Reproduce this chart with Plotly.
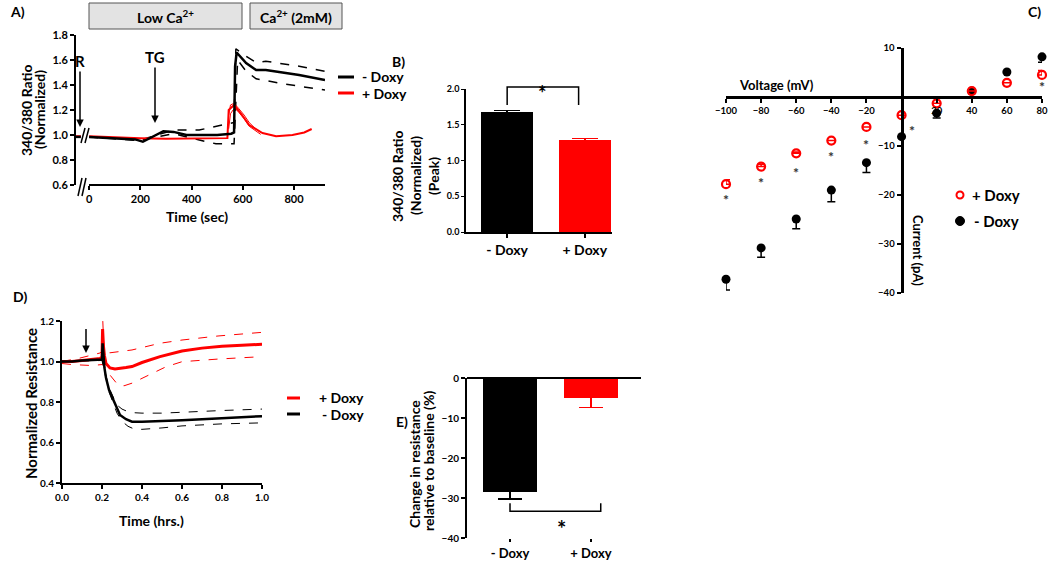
import plotly.graph_objects as go

W, H = 1050, 561
FONT = "Lato, 'Open Sans', Arial, sans-serif"
RED = "#ff0000"

# ---------------- Panel A data: 340/380 ratio vs time ----------------
a_black_t = [-55, -32, None, 0, 100, 180, 210, 250, 290, 330, 380, 430, 500, 555, 566, 570, 576, 613, 652, 690, 760, 820, 921]
a_black_y = [0.985, 0.985, None, 0.985, 0.975, 0.965, 0.946, 0.985, 1.03, 1.025, 1.0, 1.0, 1.0, 1.01, 1.02, 1.55, 1.66, 1.575, 1.52, 1.52, 1.50, 1.48, 1.44]
a_black_up_t = [0, 200, 250, 330, 430, 495, 560, 566, 573, 613, 652, 690, 820, 921]
a_black_up_y = [0.985, 0.96, 0.99, 1.04, 1.04, 1.067, 1.10, 1.10, 1.69, 1.63, 1.58, 1.59, 1.55, 1.51]
a_black_lo_t = [0, 200, 250, 330, 430, 495, 560, 566, 580, 613, 652, 755, 921]
a_black_lo_y = [0.985, 0.955, 0.98, 1.01, 0.96, 0.93, 0.93, 0.93, 1.60, 1.51, 1.45, 1.41, 1.36]
a_red_t = [-55, -32, None, 0, 100, 200, 300, 400, 500, 540, 545, 555, 566, 590, 625, 677, 730, 794, 840, 869]
a_red_y = [0.99, 0.99, None, 0.99, 0.98, 0.975, 0.97, 0.97, 0.97, 0.975, 1.20, 1.22, 1.24, 1.18, 1.08, 1.016, 0.99, 1.0, 1.02, 1.048]
a_red_hi_t = [545, 552, 562, 572, 585, 605, 625, 650, 670]
a_red_hi_y = [1.16, 1.24, 1.25, 1.24, 1.21, 1.16, 1.10, 1.05, 1.02]
a_red_lo_t = [545, 552, 562, 572, 585, 605, 625, 650, 670]
a_red_lo_y = [1.05, 1.17, 1.20, 1.21, 1.18, 1.13, 1.07, 1.03, 1.005]
a_xticks = [0, 200, 400, 600, 800]
a_yticks = [0.6, 0.8, 1.0, 1.2, 1.4, 1.6, 1.8]

# ---------------- Panel B data: peak ratio ----------------
b_cats = ["- Doxy", "+ Doxy"]
b_vals = [1.68, 1.29]
b_errs = [0.02, 0.02]
b_colors = ["black", RED]
b_yticks = [0.0, 0.5, 1.0, 1.5, 2.0]

# ---------------- Panel C data: I-V ----------------
c_volt = [-100, -80, -60, -40, -20, 0, 20, 40, 60, 80]
c_minus_i = [-37.2, -30.8, -24.9, -19.0, -13.4, -8.1, -3.3, 1.2, 5.1, 8.2]
c_minus_err = [2.2, 1.9, 2.0, 2.4, 2.0, 0.0, 1.0, 0.0, 0.0, 1.1]
c_plus_i = [-17.8, -14.2, -11.5, -8.9, -6.1, -3.7, -1.3, 1.2, 2.9, 4.5]
c_plus_err = [0.9, 0.5, 0.3, 0.0, 0.0, 0.0, 0.0, 0.0, 0.0, 0.9]
c_star_v = [-100, -80, -60, -40, -20, 6, 80]
c_star_i = [-20.0, -16.7, -14.5, -11.4, -8.8, -6.1, 2.9]
c_xticks = [-100, -80, -60, -40, -20, 20, 40, 60, 80]
c_yticks = [10, -10, -20, -30, -40]

# ---------------- Panel D data: normalized resistance ----------------
d_black_t = [0, 0.05, 0.1, 0.15, 0.19, 0.2, 0.203, 0.207, 0.212, 0.22, 0.235, 0.257, 0.275, 0.29, 0.32, 0.35, 0.4, 0.5, 0.6, 0.7, 0.8, 0.9, 1.0]
d_black_y = [1.0, 1.0, 1.005, 1.007, 1.008, 1.01, 1.09, 1.04, 0.97, 0.92, 0.86, 0.81, 0.765, 0.736, 0.715, 0.703, 0.702, 0.705, 0.71, 0.715, 0.72, 0.725, 0.73]
d_black_up_t = [0, 0.2, 0.235, 0.257, 0.275, 0.3, 0.33, 0.36, 0.4, 0.5, 0.6, 0.8, 1.0]
d_black_up_y = [1.0, 1.01, 0.87, 0.82, 0.785, 0.765, 0.752, 0.747, 0.745, 0.745, 0.75, 0.758, 0.765]
d_black_lo_t = [0, 0.2, 0.235, 0.257, 0.275, 0.3, 0.33, 0.36, 0.4, 0.5, 0.6, 0.8, 1.0]
d_black_lo_y = [1.0, 1.005, 0.85, 0.79, 0.745, 0.705, 0.68, 0.667, 0.665, 0.672, 0.682, 0.692, 0.697]
d_red_t = [0, 0.05, 0.1, 0.15, 0.19, 0.2, 0.203, 0.207, 0.212, 0.22, 0.24, 0.265, 0.29, 0.32, 0.35, 0.4, 0.49, 0.6, 0.7, 0.8, 0.9, 1.0]
d_red_y = [1.0, 1.0, 1.005, 1.01, 1.015, 1.02, 1.16, 1.08, 1.03, 0.99, 0.968, 0.963, 0.965, 0.97, 0.975, 0.995, 1.024, 1.052, 1.066, 1.075, 1.08, 1.085]
d_red_up_t = [0, 0.09, 0.19, 0.2, 0.204, 0.208, 0.215, 0.24, 0.35, 0.49, 0.6, 0.78, 1.0]
d_red_up_y = [1.0, 1.017, 1.042, 1.05, 1.2, 1.1, 1.045, 1.043, 1.057, 1.09, 1.106, 1.126, 1.144]
d_red_lo_t = [0, 0.05, 0.15, 0.2, 0.215, 0.24, 0.28, 0.31, 0.35, 0.43, 0.52, 0.6, 0.78, 1.0]
d_red_lo_y = [0.99, 0.985, 0.98, 0.985, 0.975, 0.933, 0.884, 0.88, 0.893, 0.933, 0.974, 0.999, 1.012, 1.024]
d_xticks = [0.0, 0.2, 0.4, 0.6, 0.8, 1.0]
d_yticks = [0.4, 0.6, 0.8, 1.0, 1.2]

# ---------------- Panel E data: change in resistance ----------------
e_cats = ["- Doxy", "+ Doxy"]
e_vals = [-28.4, -4.9]
e_errs = [1.9, 2.5]
e_colors = ["black", RED]
e_yticks = [0, -10, -20, -30, -40]


def px(x):
    return x / W


def py(y):
    return 1 - y / H


def F(size, color="black"):
    return dict(family=FONT, size=size, color=color, weight="bold")


fig = go.Figure()

# ---- Panel A traces
fig.add_trace(go.Scatter(x=a_black_up_t, y=a_black_up_y, mode="lines", line=dict(color="black", width=1.5, dash="dash"), xaxis="x", yaxis="y"))
fig.add_trace(go.Scatter(x=a_black_lo_t, y=a_black_lo_y, mode="lines", line=dict(color="black", width=1.5, dash="dash"), xaxis="x", yaxis="y"))
fig.add_trace(go.Scatter(x=a_red_hi_t, y=a_red_hi_y, mode="lines", line=dict(color=RED, width=1), xaxis="x", yaxis="y"))
fig.add_trace(go.Scatter(x=a_red_lo_t, y=a_red_lo_y, mode="lines", line=dict(color=RED, width=1), xaxis="x", yaxis="y"))
fig.add_trace(go.Scatter(x=a_red_t, y=a_red_y, mode="lines", line=dict(color=RED, width=2), xaxis="x", yaxis="y"))
fig.add_trace(go.Scatter(x=a_black_t, y=a_black_y, mode="lines", line=dict(color="black", width=2.5), xaxis="x", yaxis="y"))

# ---- Panel B bars
for i in range(2):
    fig.add_trace(go.Bar(x=[i], y=[b_vals[i]], width=0.67, marker=dict(color=b_colors[i], line=dict(width=0)),
                         error_y=dict(type="data", array=[b_errs[i]], color=b_colors[i], thickness=1.5, width=13),
                         xaxis="x2", yaxis="y2"))

# ---- Panel C scatter
fig.add_trace(go.Scatter(x=c_volt, y=c_minus_i, mode="markers", marker=dict(color="black", size=9, symbol="circle"),
                         error_y=dict(type="data", symmetric=False, array=[0] * len(c_volt), arrayminus=c_minus_err,
                                      color="black", thickness=1.5, width=4),
                         xaxis="x3", yaxis="y3", cliponaxis=False))
fig.add_trace(go.Scatter(x=c_volt, y=c_plus_i, mode="markers",
                         marker=dict(color=RED, size=8, symbol="circle-open", line=dict(color=RED, width=2.2)),
                         error_y=dict(type="data", symmetric=False, array=c_plus_err, arrayminus=[0] * len(c_volt),
                                      color=RED, thickness=1.5, width=4),
                         xaxis="x3", yaxis="y3", cliponaxis=False))

# ---- Panel D lines
fig.add_trace(go.Scatter(x=d_red_up_t, y=d_red_up_y, mode="lines", line=dict(color=RED, width=1, dash="dash"), xaxis="x4", yaxis="y4"))
fig.add_trace(go.Scatter(x=d_red_lo_t, y=d_red_lo_y, mode="lines", line=dict(color=RED, width=1, dash="dash"), xaxis="x4", yaxis="y4"))
fig.add_trace(go.Scatter(x=d_black_up_t, y=d_black_up_y, mode="lines", line=dict(color="black", width=1, dash="dash"), xaxis="x4", yaxis="y4"))
fig.add_trace(go.Scatter(x=d_black_lo_t, y=d_black_lo_y, mode="lines", line=dict(color="black", width=1, dash="dash"), xaxis="x4", yaxis="y4"))
fig.add_trace(go.Scatter(x=d_red_t, y=d_red_y, mode="lines", line=dict(color=RED, width=3), xaxis="x4", yaxis="y4"))
fig.add_trace(go.Scatter(x=d_black_t, y=d_black_y, mode="lines", line=dict(color="black", width=2.5), xaxis="x4", yaxis="y4"))

# ---- Panel E bars
for i in range(2):
    fig.add_trace(go.Bar(x=[i], y=[e_vals[i]], width=0.67, marker=dict(color=e_colors[i], line=dict(width=0)),
                         error_y=dict(type="data", symmetric=False, array=[0], arrayminus=[e_errs[i]],
                                      color=e_colors[i], thickness=1.5, width=12),
                         xaxis="x5", yaxis="y5"))

axis_common = dict(showgrid=False, zeroline=False, showline=True, linecolor="black", linewidth=2,
                   ticks="outside", ticklen=4, tickwidth=1.5, tickcolor="black", automargin=False)

# Panel C geometry for crossing axes
c_xr = [-100, 80]
c_yr = [-40, 10]
c_xd = [px(726), px(1042)]
c_yd = [py(293), py(48)]
c_yaxis_pos = c_xd[0] + (0 - c_xr[0]) / (c_xr[1] - c_xr[0]) * (c_xd[1] - c_xd[0])
c_xaxis_pos = c_yd[0] + (0 - c_yr[0]) / (c_yr[1] - c_yr[0]) * (c_yd[1] - c_yd[0])

fig.update_layout(
    template="none",
    width=W, height=H, margin=dict(l=0, r=0, t=0, b=0, autoexpand=False),
    paper_bgcolor="white", plot_bgcolor="rgba(0,0,0,0)",
    showlegend=False, font=F(12), bargap=0,
    xaxis=dict(axis_common, domain=[px(75), px(325)], range=[-55, 921], anchor="y", showline=False,
               tickvals=a_xticks, tickfont=F(11)),
    yaxis=dict(axis_common, domain=[py(185), py(35)], range=[0.6, 1.8], anchor="free", position=px(75),
               tickvals=a_yticks, tickformat=".1f", tickfont=F(11)),
    xaxis2=dict(axis_common, domain=[px(466), px(612)], range=[-0.53, 1.35], anchor="y2",
                tickvals=[0, 1], ticktext=b_cats, tickfont=F(14)),
    yaxis2=dict(axis_common, domain=[py(232), py(89)], range=[0, 2.0], anchor="x2",
                tickvals=b_yticks, tickformat=".1f", tickfont=F(9), linewidth=1.5, tickwidth=1, ticklen=3),
    xaxis3=dict(axis_common, domain=c_xd, range=c_xr, anchor="free", position=c_xaxis_pos, linewidth=3,
                tickvals=c_xticks, tickfont=F(9.5)),
    yaxis3=dict(axis_common, domain=c_yd, range=c_yr, anchor="free", position=c_yaxis_pos, linewidth=3,
                tickvals=c_yticks, tickfont=F(9.5)),
    xaxis4=dict(axis_common, domain=[px(62), px(262)], range=[0, 1], anchor="y4",
                tickvals=d_xticks, tickformat=".1f", tickfont=F(10)),
    yaxis4=dict(axis_common, domain=[py(483), py(321)], range=[0.4, 1.2], anchor="x4",
                tickvals=d_yticks, tickformat=".1f", tickfont=F(10)),
    xaxis5=dict(axis_common, domain=[px(467), px(641)], range=[-0.531, 1.617], anchor="y5", showline=False,
                tickvals=[0, 1], ticktext=e_cats, tickfont=F(13), ticklen=3),
    yaxis5=dict(axis_common, domain=[py(538), py(378)], range=[-40, 0], anchor="x5",
                tickvals=e_yticks, tickfont=F(10)),
)

shapes = []
# Panel A header boxes
shapes.append(dict(type="rect", xref="paper", yref="paper", x0=px(89), x1=px(242), y0=py(29), y1=py(3),
                   fillcolor="#e3e3e3", line=dict(color="#555555", width=1)))
shapes.append(dict(type="rect", xref="paper", yref="paper", x0=px(250), x1=px(342), y0=py(29), y1=py(3),
                   fillcolor="#e3e3e3", line=dict(color="#555555", width=1)))
# Panel A x-axis line (after the break)
shapes.append(dict(type="line", xref="paper", yref="paper", x0=px(89), x1=px(325), y0=py(185), y1=py(185),
                   line=dict(color="black", width=2)))
# Axis break marks "//"
for dx in (0, 4):
    shapes.append(dict(type="line", xref="paper", yref="paper", x0=px(81 + dx), x1=px(85 + dx), y0=py(143), y1=py(128),
                       line=dict(color="black", width=1.5)))
    shapes.append(dict(type="line", xref="paper", yref="paper", x0=px(78 + dx), x1=px(82 + dx), y0=py(196), y1=py(178),
                       line=dict(color="black", width=1.5)))
# Panel A legend lines
shapes.append(dict(type="line", xref="paper", yref="paper", x0=px(338), x1=px(354), y0=py(77), y1=py(77), line=dict(color="black", width=3)))
shapes.append(dict(type="line", xref="paper", yref="paper", x0=px(338), x1=px(354), y0=py(93), y1=py(93), line=dict(color=RED, width=3)))
# Panel D legend lines
shapes.append(dict(type="line", xref="paper", yref="paper", x0=px(287), x1=px(300), y0=py(398), y1=py(398), line=dict(color=RED, width=3)))
shapes.append(dict(type="line", xref="paper", yref="paper", x0=px(287), x1=px(300), y0=py(414), y1=py(414), line=dict(color="black", width=3)))
# Panel C legend markers
shapes.append(dict(type="circle", xref="paper", yref="paper", xsizemode="pixel", ysizemode="pixel",
                   xanchor=px(960), yanchor=py(195), x0=-3.5, x1=3.5, y0=-3.5, y1=3.5,
                   line=dict(color=RED, width=2), fillcolor="white"))
shapes.append(dict(type="circle", xref="paper", yref="paper", xsizemode="pixel", ysizemode="pixel",
                   xanchor=px(960), yanchor=py(221), x0=-4.5, x1=4.5, y0=-4.5, y1=4.5,
                   line=dict(color="black", width=1), fillcolor="black"))
# Panel B significance bracket
b_brk_y0, b_brk_y1 = py(105), py(87)
shapes.append(dict(type="path", xref="x2", yref="paper",
                   path=f"M 0,{b_brk_y0} L 0,{b_brk_y1} L 0.92,{b_brk_y1} L 0.92,{b_brk_y0}",
                   line=dict(color="black", width=1.5)))
# Panel E zero line and bracket
shapes.append(dict(type="line", xref="paper", yref="paper", x0=px(467), x1=px(641), y0=py(378), y1=py(378),
                   line=dict(color="black", width=2)))
shapes.append(dict(type="path", xref="x5", yref="y5",
                   path="M 0,-31.3 L 0,-33.3 L 1.12,-33.3 L 1.12,-31.3",
                   line=dict(color="black", width=1.5)))
fig.update_layout(shapes=shapes)

ann = []


def text(x, y, s, size=14, color="black", angle=0, xanchor="center", yanchor="middle"):
    ann.append(dict(x=px(x), y=py(y), xref="paper", yref="paper", text=s, showarrow=False, font=F(size, color),
                    textangle=angle, xanchor=xanchor, yanchor=yanchor))


# Panel labels
text(17, 12, "A)", 14)
text(398, 62, "B)", 14)
text(1034, 11, "C)", 14)
text(20, 296, "D)", 14)
text(402, 421, "E)", 14)
# Header box labels
text(165, 17, "Low Ca<sup>2+</sup>", 14)
text(296, 17, "Ca<sup>2+</sup> (2mM)", 14)
# Panel A titles
text(27, 110, "340/380 Ratio", 14, angle=-90)
text(40, 110, "(Normalized)", 14, angle=-90)
text(197, 216, "Time (sec)", 14)
# Panel A legend
text(360, 76, "- Doxy", 14, xanchor="left")
text(360, 93, "+ Doxy", 14, xanchor="left")
# Panel B titles
text(397, 176, "340/380 Ratio", 14, angle=-90)
text(415, 176, "(Normalized)", 14, angle=-90)
text(433, 176, "(Peak)", 14, angle=-90)
# Panel C titles and legend
text(776, 85, "Voltage (mV)", 13)
text(918, 250, "Current (pA)", 13, angle=90)
text(970, 195, "+ Doxy", 15, xanchor="left")
text(972, 221, "- Doxy", 15, xanchor="left")
# Panel D titles and legend
text(31, 404, "Normalized Resistance", 15, angle=-90)
text(151, 520, "Time (hrs.)", 14)
text(317, 397, "+ Doxy", 14, xanchor="left")
text(320, 414, "- Doxy", 14, xanchor="left")
# Panel E titles
text(414, 464, "Change in resistance", 14, angle=-90)
text(428, 461, "relative to baseline (%)", 14, angle=-90)

# Stars
ann.append(dict(x=0.45, y=py(74), xref="x2", yref="paper", text="*", showarrow=False, font=F(20), yshift=-5))
ann.append(dict(x=0.63, y=-36.2, xref="x5", yref="y5", text="*", showarrow=False, font=F(22), yshift=-6))
for v, c in zip(c_star_v, c_star_i):
    ann.append(dict(x=v, y=c, xref="x3", yref="y3", text="*", showarrow=False, font=F(14, "#333333"), yshift=-4))

# Arrows
arrow = dict(showarrow=True, arrowhead=2, arrowsize=1, arrowwidth=1.5, arrowcolor="black", ax=0, xref="paper", yref="paper")
ann.append(dict(arrow, x=px(80), y=py(127), ay=-66, text="R", font=F(15)))
ann.append(dict(arrow, x=px(155), y=py(123), ay=-66, text="TG", font=F(15)))
ann.append(dict(arrow, x=px(86), y=py(353), ay=-28, text=" ", font=F(4)))

fig.update_layout(annotations=ann)

fig.write_html("out.html", config={"displayModeBar": False},
               post_script="document.body.style.margin='0';document.body.style.overflow='hidden';")
